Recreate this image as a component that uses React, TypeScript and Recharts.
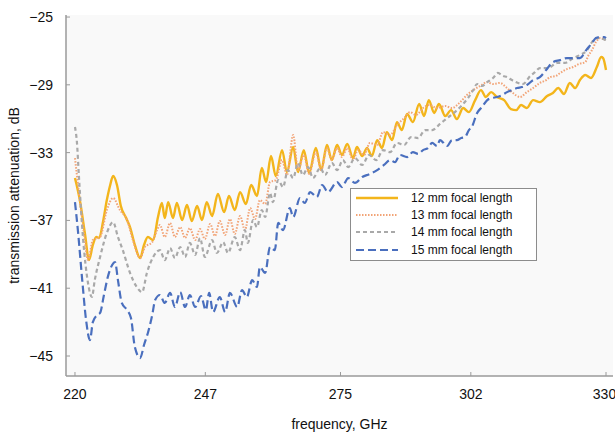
import React from 'react';
import { LineChart, Line, XAxis, YAxis, CartesianGrid, Legend } from 'recharts';

// frequency (GHz), attenuation (dB) pairs
const focal12: [number, number][] = [
  [220.0, -34.5], [221.0, -35.8], [222.1, -37.86], [222.9, -39.34], [223.7, -38.45], [224.4, -37.98],
  [225.0, -38.04], [225.8, -37.1], [226.6, -35.8], [227.3, -34.91], [227.9, -34.38], [228.7, -34.91],
  [229.5, -36.15], [230.6, -36.86], [231.4, -37.39], [232.4, -38.45], [233.5, -39.22], [234.3, -38.45],
  [235.1, -37.98], [236.2, -38.16], [237.2, -36.8], [238.0, -35.97], [238.6, -36.86], [239.3, -35.92],
  [240.3, -36.86], [241.1, -35.97], [242.2, -36.98], [243.2, -36.09], [244.2, -37.04], [245.3, -36.15],
  [246.3, -36.98], [247.3, -35.92], [248.4, -36.74], [249.6, -35.44], [250.9, -36.51], [251.9, -35.56],
  [253.1, -36.39], [254.2, -35.33], [255.4, -36.03], [256.5, -34.91], [257.7, -35.56], [258.7, -33.91],
  [259.6, -34.74], [260.6, -33.2], [261.6, -34.38], [262.9, -32.85], [263.9, -34.15], [265.2, -32.67],
  [266.2, -34.15], [267.4, -32.85], [268.5, -34.2], [269.9, -32.73], [271.0, -34.03], [272.2, -32.55],
  [273.2, -33.44], [274.3, -32.55], [275.3, -33.14], [276.4, -32.49], [277.6, -33.32], [278.4, -32.67],
  [279.5, -33.2], [280.5, -32.73], [281.5, -33.2], [282.6, -32.26], [283.6, -32.73], [284.6, -31.79],
  [285.7, -32.26], [286.7, -31.2], [287.7, -31.67], [288.8, -30.72], [290.0, -31.2], [291.3, -30.13],
  [292.3, -30.84], [293.3, -29.9], [294.4, -30.66], [295.4, -30.13], [296.7, -30.84], [297.9, -30.49],
  [299.1, -31.02], [300.4, -30.37], [301.6, -30.61], [302.9, -29.9], [304.1, -29.31], [305.1, -29.72],
  [306.2, -29.43], [307.4, -29.72], [308.9, -29.9], [310.3, -30.43], [311.4, -30.49], [312.4, -30.19],
  [313.6, -30.37], [314.9, -29.9], [316.3, -30.02], [317.8, -29.66], [319.0, -29.48], [320.1, -29.19],
  [321.3, -29.54], [322.5, -28.89], [323.6, -29.19], [324.6, -28.72], [325.7, -28.42], [326.9, -28.6],
  [328.1, -27.95], [329.0, -27.36], [329.4, -27.42], [330.0, -28.13],
];

const focal13: [number, number][] = [
  [220.0, -33.32], [221.0, -35.8], [221.9, -37.86], [222.7, -39.34], [223.7, -38.16], [225.2, -37.98],
  [226.6, -36.39], [227.9, -35.68], [229.3, -36.39], [230.8, -36.98], [232.0, -38.16], [233.5, -39.22],
  [234.5, -38.57], [236.0, -38.28], [237.0, -37.57], [237.6, -37.27], [238.6, -37.98], [239.7, -37.15],
  [240.7, -37.98], [241.8, -37.39], [242.8, -38.04], [243.8, -37.45], [244.9, -38.16], [245.9, -37.51],
  [246.9, -38.1], [248.0, -37.21], [249.0, -37.92], [250.0, -37.04], [251.1, -37.86], [252.1, -36.92],
  [253.1, -37.8], [254.2, -36.74], [255.2, -37.57], [256.3, -36.27], [257.3, -36.92], [258.3, -35.8],
  [259.4, -36.03], [260.4, -34.74], [261.6, -34.62], [262.9, -33.44], [263.9, -34.32], [265.2, -31.96],
  [266.2, -34.03], [267.4, -33.14], [268.5, -34.26], [269.9, -32.97], [271.0, -34.03], [272.2, -32.73],
  [273.2, -33.44], [274.3, -32.73], [275.3, -33.26], [276.4, -32.73], [277.6, -33.44], [278.6, -32.85],
  [279.9, -33.14], [281.1, -32.43], [282.6, -32.55], [283.8, -31.79], [285.3, -31.96], [286.7, -31.37],
  [288.2, -30.96], [289.4, -30.61], [290.6, -30.78], [292.1, -30.37], [293.5, -30.19], [295.0, -30.37],
  [296.7, -30.25], [298.1, -30.37], [299.8, -30.02], [301.2, -29.6], [302.5, -29.31], [303.9, -29.07],
  [305.4, -28.84], [306.6, -28.95], [308.0, -28.89], [309.5, -29.19], [310.7, -29.48], [312.2, -29.72],
  [313.6, -29.43], [314.9, -29.19], [316.3, -28.89], [317.6, -28.72], [318.4, -28.54], [319.6, -28.48],
  [320.5, -28.3], [321.9, -28.07], [323.2, -27.95], [324.4, -27.77], [325.7, -27.66], [326.3, -27.3],
  [327.1, -26.95], [327.9, -26.48], [328.8, -26.24], [329.8, -26.36],
];

const focal14: [number, number][] = [
  [220.0, -31.49], [220.4, -32.38], [220.8, -34.32], [221.7, -38.16], [222.7, -40.69], [223.5, -41.52],
  [224.1, -40.52], [225.2, -39.16], [226.6, -37.74], [227.9, -37.1], [228.9, -37.98], [229.9, -38.75],
  [231.4, -40.1], [232.8, -40.93], [233.9, -41.23], [234.9, -40.1], [236.2, -39.16], [237.6, -38.75],
  [238.6, -39.34], [239.7, -38.63], [240.7, -39.22], [241.8, -38.57], [242.8, -39.16], [243.8, -38.33],
  [244.9, -39.04], [245.9, -38.04], [246.9, -39.16], [248.4, -38.16], [249.4, -38.92], [250.7, -38.28],
  [251.7, -38.92], [253.1, -37.98], [254.2, -38.75], [255.2, -37.57], [255.8, -38.33], [256.9, -36.98],
  [257.7, -37.39], [258.7, -36.39], [259.4, -36.8], [260.4, -35.38], [261.0, -35.92], [262.1, -34.62],
  [263.1, -35.03], [264.1, -34.03], [265.2, -34.5], [266.2, -33.61], [267.2, -34.32], [268.3, -33.85],
  [269.3, -34.5], [270.8, -33.91], [271.8, -34.32], [273.2, -33.61], [274.3, -34.03], [275.5, -33.44],
  [276.6, -33.85], [278.0, -33.32], [279.5, -33.73], [280.9, -33.14], [282.4, -33.44], [283.8, -32.85],
  [285.3, -32.97], [286.7, -32.43], [288.2, -32.55], [289.6, -32.08], [291.1, -32.14], [292.5, -31.67],
  [294.0, -31.67], [295.6, -31.31], [297.1, -30.96], [298.7, -30.61], [300.2, -30.19], [301.4, -29.78],
  [302.5, -29.31], [303.3, -28.95], [304.3, -29.07], [305.4, -28.84], [306.6, -28.6], [307.6, -28.3],
  [308.7, -28.48], [309.5, -28.54], [310.5, -28.72], [311.8, -28.89], [312.8, -28.95], [314.3, -28.48],
  [315.3, -28.25], [316.3, -28.01], [318.0, -28.01], [319.9, -27.71], [321.5, -27.71], [323.2, -27.42],
  [324.6, -27.24], [326.1, -26.95], [327.1, -26.48], [327.9, -26.24], [328.8, -26.24], [329.4, -26.3],
  [330.0, -26.36],
];

const focal15: [number, number][] = [
  [220.0, -35.92], [220.6, -37.57], [221.5, -40.52], [222.3, -42.88], [223.1, -44.06], [223.7, -43.0],
  [224.6, -42.58], [225.2, -42.46], [226.0, -41.4], [226.8, -40.34], [227.7, -39.63], [228.3, -39.46],
  [228.9, -40.52], [229.7, -41.87], [230.8, -42.29], [231.6, -42.76], [232.4, -44.47], [233.5, -45.12],
  [234.3, -44.35], [235.1, -43.64], [236.0, -42.58], [236.6, -41.7], [237.6, -41.4], [238.6, -41.87],
  [239.7, -41.28], [240.7, -42.11], [241.8, -41.23], [242.8, -42.11], [243.8, -41.4], [244.9, -42.11],
  [246.1, -41.46], [247.1, -42.29], [247.8, -41.28], [248.6, -42.41], [250.0, -41.52], [251.1, -42.41],
  [252.1, -41.28], [253.6, -42.11], [254.6, -41.11], [255.6, -41.52], [256.7, -40.52], [257.7, -40.93],
  [258.3, -39.75], [259.4, -40.1], [260.4, -38.57], [261.4, -38.75], [262.1, -37.15], [263.1, -37.57],
  [264.5, -36.27], [265.2, -36.8], [266.6, -35.68], [267.6, -35.97], [268.7, -35.33], [270.1, -35.62],
  [271.2, -34.91], [272.4, -35.33], [274.3, -34.74], [275.3, -35.03], [276.6, -34.5], [278.0, -34.79],
  [279.5, -34.44], [281.1, -34.26], [282.6, -34.03], [284.0, -33.73], [285.3, -33.44], [286.3, -33.56],
  [287.3, -33.14], [288.8, -33.26], [290.0, -32.97], [291.1, -33.08], [292.1, -32.85], [293.1, -32.73],
  [294.0, -32.43], [295.0, -32.61], [295.6, -32.26], [297.1, -32.61], [298.1, -32.26], [299.1, -32.26],
  [300.0, -32.14], [300.8, -32.08], [301.6, -31.67], [302.2, -31.49], [303.3, -30.66], [304.3, -30.31],
  [305.4, -29.9], [306.4, -29.78], [307.4, -29.72], [308.5, -29.6], [309.5, -29.43], [310.5, -29.31],
  [311.6, -29.19], [312.6, -29.13], [313.6, -29.01], [314.9, -28.72], [316.3, -28.54], [317.6, -28.13],
  [319.0, -27.66], [320.5, -27.54], [321.9, -27.42], [323.4, -27.42], [324.6, -27.42], [325.9, -26.95],
  [327.1, -26.54], [327.9, -26.24], [328.8, -26.18], [329.6, -26.18], [330.0, -26.24],
];

const freqTicks = [220, 247, 275, 302, 330];
const dbTicks = [-45, -41, -37, -33, -29, -25];

const series = [
  { name: '12 mm focal length', points: focal12, color: '#f3b51b', dash: undefined, width: 2.4 },
  { name: '13 mm focal length', points: focal13, color: '#f2a477', dash: '1.5 1.5', width: 2 },
  { name: '14 mm focal length', points: focal14, color: '#a9a9a9', dash: '4 3', width: 2.2 },
  { name: '15 mm focal length', points: focal15, color: '#4a6fbe', dash: '8 4', width: 2.2 },
];

const font = '"Liberation Sans", Arial, sans-serif';

const LegendBox = () => (
  <div style={{ border: '1px solid #8c8c8c', background: '#fff', width: 185, padding: '0 0 2px 0', fontFamily: font }}>
    {series.map((s) => (
      <div key={s.name} style={{ display: 'flex', alignItems: 'center', height: 17.3 }}>
        <svg width={60} height={6} style={{ display: 'block' }}>
          <line x1={5} y1={3} x2={47} y2={3} stroke={s.color} strokeWidth={s.width} strokeDasharray={s.dash} />
        </svg>
        <span style={{ fontSize: 12, color: '#111' }}>{s.name}</span>
      </div>
    ))}
  </div>
);

export default function App() {
  const axisLine = { stroke: '#9a9a9a', strokeWidth: 1.5 };
  return (
    <div style={{ width: 615, height: 434, background: '#fff' }}>
      <style>{'body{margin:0}'}</style>
      <LineChart width={615} height={434} margin={{ top: 15, right: 2, left: 0, bottom: 0 }}>
        <CartesianGrid fill="#f9f9f9" stroke="none" />
        <XAxis
          dataKey="f"
          type="number"
          domain={[218.14, 331.45]}
          ticks={freqTicks}
          allowDataOverflow
          height={58}
          axisLine={axisLine}
          tickLine={{ stroke: '#9a9a9a' }}
          tickSize={-4}
          tickMargin={17}
          tick={{ fill: '#111', fontSize: 14, fontFamily: font }}
          label={{ value: 'frequency, GHz', position: 'insideBottom', offset: 5, fill: '#111', fontSize: 14, fontFamily: font }}
        />
        <YAxis
          type="number"
          domain={[-46.18, -24.88]}
          ticks={dbTicks}
          allowDataOverflow
          width={66}
          axisLine={axisLine}
          tickLine={{ stroke: '#9a9a9a' }}
          tickSize={-4}
          tickMargin={17}
          tickFormatter={(v: number) => String(v).replace('-', '\u2212')}
          tick={{ fill: '#111', fontSize: 14, fontFamily: font }}
          label={{ value: 'transmission attenuation, dB', angle: -90, position: 'center', dx: -19, fill: '#111', fontSize: 14, fontFamily: font }}
        />
        <Legend
          layout="vertical"
          align="center"
          verticalAlign="middle"
          content={<LegendBox />}
          wrapperStyle={{ left: 350, top: 188, width: 187 }}
        />
        {series.map((s) => (
          <Line
            key={s.name}
            name={s.name}
            data={s.points.map(([f, v]) => ({ f, v }))}
            dataKey="v"
            type="monotone"
            stroke={s.color}
            strokeWidth={s.width}
            strokeDasharray={s.dash}
            dot={false}
            activeDot={false}
            isAnimationActive={false}
          />
        ))}
      </LineChart>
    </div>
  );
}
